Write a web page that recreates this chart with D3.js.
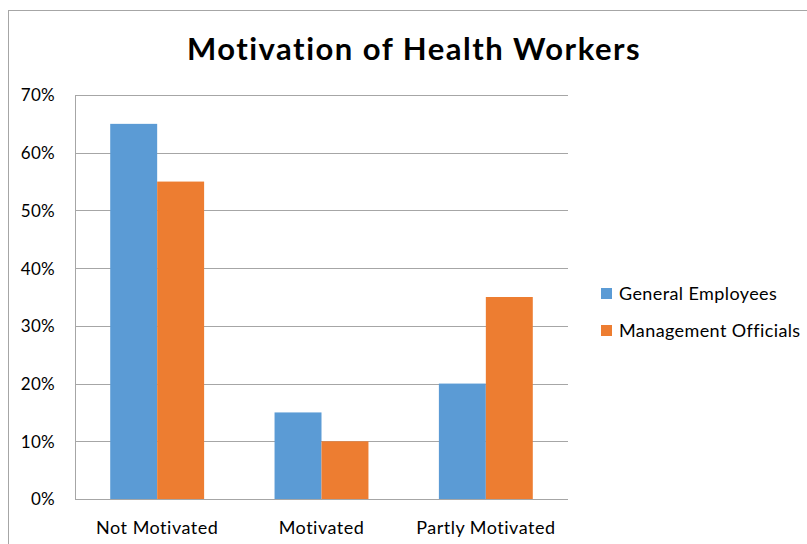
<!DOCTYPE html>
<html>
<head>
<meta charset="utf-8">
<script src="https://cdn.jsdelivr.net/npm/d3@7"></script>
<style>
  body { margin: 0; background: #fff; }
  svg text { font-family: Lato, "Open Sans", sans-serif; fill: #000; }
</style>
</head>
<body>
<script>
let categories = ["Not Motivated", "Motivated", "Partly Motivated"];
let seriesNames = ["General Employees", "Management Officials"];
let generalEmployees = [0.65, 0.15, 0.20];
let managementOfficials = [0.55, 0.10, 0.35];
let yTicks = [0, 0.1, 0.2, 0.3, 0.4, 0.5, 0.6, 0.7];
let colors = ["#5B9BD5", "#ED7D31"];

let width = 807, height = 544;

let svg = d3.select("body")
  .append("svg")
  .attr("width", width)
  .attr("height", height);

// outer chart border
svg.append("rect")
  .attr("x", 8.5)
  .attr("y", 10.5)
  .attr("width", 820)
  .attr("height", 560)
  .style("fill", "#fff")
  .style("stroke", "#a6a6a6")
  .style("stroke-width", 1);

svg.append("text")
  .attr("x", 414)
  .attr("y", 60)
  .attr("text-anchor", "middle")
  .style("font-size", "31px")
  .style("font-weight", "bold")
  .style("letter-spacing", "1.5px")
  .text("Motivation of Health Workers");

let plotLeft = 75, plotRight = 568, plotTop = 95, plotBottom = 499;

let y = d3.scaleLinear().domain([0, 0.7]).range([plotBottom, plotTop]);
let x0 = d3.scaleBand().domain(categories).range([plotLeft, plotRight]).paddingInner(0).paddingOuter(0);
let x1 = d3.scaleBand().domain(seriesNames).range([0, x0.bandwidth() * 2 / 3.5]);

// gridlines
svg.append("g")
  .selectAll("line")
  .data(yTicks)
  .enter()
  .append("line")
  .attr("x1", plotLeft)
  .attr("x2", plotRight)
  .attr("y1", d => Math.round(y(d)) + 0.5)
  .attr("y2", d => Math.round(y(d)) + 0.5)
  .style("stroke", "#a6a6a6");

// y axis line
svg.append("line")
  .attr("x1", plotLeft + 0.5).attr("x2", plotLeft + 0.5)
  .attr("y1", plotTop).attr("y2", plotBottom + 1)
  .style("stroke", "#a6a6a6");

// y tick labels
let yAxis = d3.axisLeft(y).tickValues(yTicks).tickFormat(d3.format(".0%")).tickSize(0).tickPadding(20);
let yg = svg.append("g").attr("transform", `translate(${plotLeft},0)`).call(yAxis);
yg.select(".domain").remove();
yg.selectAll("text")
  .style("font-size", "17px")
  .style("letter-spacing", "0.3px")
  .style("font-family", "Lato, sans-serif")
  .attr("dy", "0.35em");

// bars
let rows = categories.map((c, i) => ({ cat: c, vals: [generalEmployees[i], managementOfficials[i]] }));
let groups = svg.append("g")
  .selectAll("g")
  .data(rows)
  .enter()
  .append("g")
  .attr("transform", d => `translate(${x0(d.cat) + x0.bandwidth() * 0.75 / 3.5}, 0)`);

groups.selectAll("rect")
  .data(d => d.vals.map((v, j) => ({ name: seriesNames[j], v: v, j: j })))
  .enter()
  .append("rect")
  .attr("x", d => x1(d.name))
  .attr("width", x1.bandwidth())
  .attr("y", d => y(d.v))
  .attr("height", d => plotBottom - y(d.v))
  .style("fill", d => colors[d.j]);

// category labels
let xAxis = d3.axisBottom(x0).tickSize(0).tickPadding(22);
let xg = svg.append("g").attr("transform", `translate(0,${plotBottom})`).call(xAxis);
xg.select(".domain").remove();
xg.selectAll("text")
  .style("font-size", "18px")
  .style("letter-spacing", "0.5px")
  .style("font-family", "Lato, sans-serif");

// legend
let legend = svg.append("g")
  .selectAll("g")
  .data(seriesNames)
  .enter()
  .append("g")
  .attr("transform", (d, i) => `translate(601, ${288 + i * 37})`);

legend.append("rect")
  .attr("width", 11)
  .attr("height", 11)
  .style("fill", (d, i) => colors[i]);

legend.append("text")
  .attr("x", 18)
  .attr("y", 12)
  .style("font-size", "18px")
  .style("letter-spacing", "0.4px")
  .text(d => d);
</script>
</body>
</html>
